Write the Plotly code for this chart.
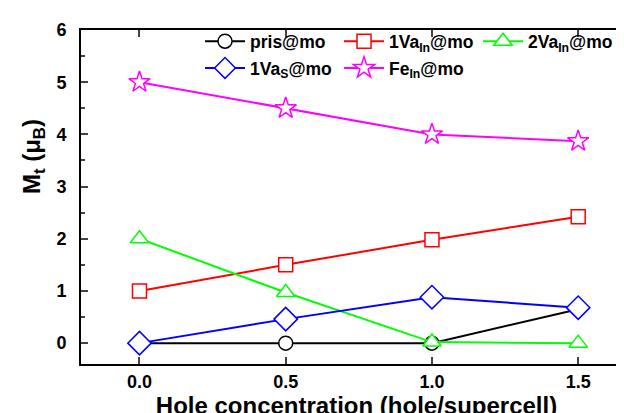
import plotly.graph_objects as go

x = [0.0, 0.5, 1.0, 1.5]
pris = [0.0, 0.0, 0.0, 0.65]
va1_in = [1.0, 1.5, 1.98, 2.42]
va2_in = [2.0, 0.97, 0.02, 0.0]
va1_s = [0.0, 0.46, 0.88, 0.68]
fe_in = [5.0, 4.5, 4.0, 3.87]

series = [
    ("pris@mo", pris, "#000000", "circle", 14, "legend"),
    ("1Va<sub>In</sub>@mo", va1_in, "#ff0000", "square", 14, "legend"),
    ("2Va<sub>In</sub>@mo", va2_in, "#00ff00", "triangle-up", 16, "legend"),
    ("1Va<sub>S</sub>@mo", va1_s, "#0000ff", "diamond", 18, "legend2"),
    ("Fe<sub>In</sub>@mo", fe_in, "#ff00ff", "star", 16, "legend2"),
]

fig = go.Figure()
for name, y, c, sym, sz, lg in series:
    fig.add_trace(go.Scatter(
        x=x, y=y, name=name, mode="lines+markers", legend=lg,
        line=dict(color=c, width=2),
        marker=dict(symbol=sym, size=sz, color="white",
                    line=dict(color=c, width=1.5)),
    ))

font = "Liberation Sans, Arial, sans-serif"
legend_common = dict(orientation="h", xanchor="left", yanchor="top",
                     entrywidth=84, entrywidthmode="pixels",
                     font=dict(size=17.5, family=font, weight="bold"),
                     bgcolor="rgba(0,0,0,0)", tracegroupgap=0, itemwidth=40)
fig.update_layout(
    width=624, height=413,
    margin=dict(l=73, r=0, t=22, b=57),
    plot_bgcolor="white", paper_bgcolor="white",
    font=dict(family=font, size=18, color="black"),
    showlegend=True,
    legend=dict(x=0.2160, y=1.02, **legend_common),
    legend2=dict(x=0.2160, y=0.94, **legend_common),
    xaxis=dict(range=[-0.2, 1.684], tickvals=[0.0, 0.5, 1.0, 1.5],
               ticktext=["0.0", "0.5", "1.0", "1.5"],
               ticks="inside", ticklen=7, tickwidth=2, mirror="ticks",
               showline=True, linecolor="black", linewidth=2, showgrid=False,
               zeroline=False,
               tickfont=dict(size=18, family=font, weight="bold"),
               title=dict(text="Hole concentration (hole/supercell)",
                          font=dict(size=24, family=font, weight="bold"),
                          standoff=4)),
    yaxis=dict(range=[-0.4, 6], tickvals=[0, 1, 2, 3, 4, 5, 6],
               ticks="inside", ticklen=7, tickwidth=2,
               minor=dict(tickvals=[0.5, 1.5, 2.5, 3.5, 4.5, 5.5], ticks="inside", ticklen=4, tickwidth=2),
               showline=True, linecolor="black", linewidth=2, showgrid=False,
               zeroline=False, ticklabelstandoff=9,
               tickfont=dict(size=18, family=font, weight="bold")),
    annotations=[dict(text="M<sub>t</sub> (μ<sub>B</sub>)", textangle=-90,
                      xref="paper", yref="paper", x=-0.085, y=0.62,
                      xanchor="center", yanchor="middle", showarrow=False,
                      font=dict(size=24, family=font, weight="bold"))],
)

fig.write_html("out.html")
